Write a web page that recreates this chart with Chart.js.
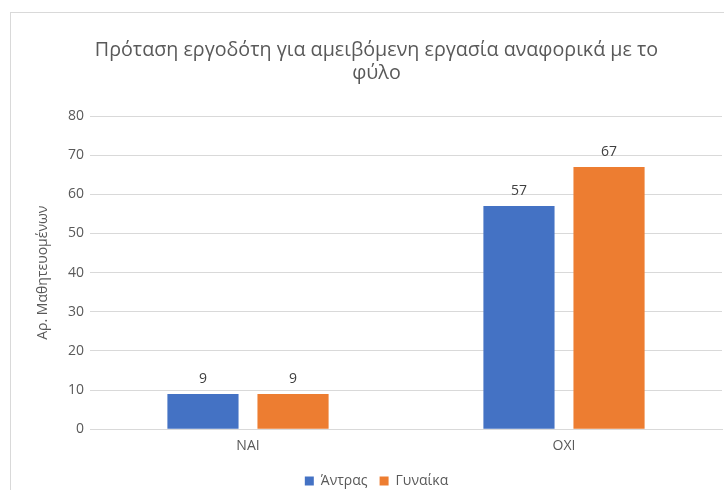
<!DOCTYPE html>
<html>
<head>
<meta charset="utf-8">
<script src="https://cdn.jsdelivr.net/npm/chart.js@4/dist/chart.umd.min.js"></script>
<style>
html,body{margin:0;padding:0;background:#fff;overflow:hidden;width:724px;height:490px;}
#wrap{position:absolute;left:10px;top:12px;width:740px;height:485px;border-left:1px solid #d9d9d9;border-top:1px solid #d9d9d9;background:#fff;}
canvas{display:block;}
</style>
</head>
<body>
<div id="wrap"><canvas id="c" width="740" height="485"></canvas></div>
<script>
const categories = ["ΝΑΙ", "ΟΧΙ"];
const seriesNames = ["Άντρας", "Γυναίκα"];
const men = [9, 57];
const women = [9, 67];
const yTicks = [0, 10, 20, 30, 40, 50, 60, 70, 80];
const titleLines = ["Πρόταση εργοδότη για αμειβόμενη εργασία αναφορικά με το", "φύλο"];
const yTitle = "Αρ. Μαθητευομένων";

const FONT = "'Open Sans', sans-serif";
const TXT = "#595959";

const valueLabels = {
  id: "valueLabels",
  afterDatasetsDraw(chart) {
    const ctx = chart.ctx;
    ctx.save();
    ctx.font = "14px " + FONT;
    ctx.fillStyle = "#404040";
    ctx.textAlign = "center";
    ctx.textBaseline = "bottom";
    chart.data.datasets.forEach((ds, i) => {
      chart.getDatasetMeta(i).data.forEach((bar, j) => {
        ctx.fillText(String(ds.data[j]), bar.x, bar.y - 8);
      });
    });
    ctx.restore();
  }
};

new Chart(document.getElementById("c"), {
  type: "bar",
  data: {
    labels: categories,
    datasets: [
      { label: seriesNames[0], data: men, backgroundColor: "#4472c4" },
      { label: seriesNames[1], data: women, backgroundColor: "#ed7d31" }
    ]
  },
  options: {
    responsive: false,
    animation: false,
    devicePixelRatio: 1,
    categoryPercentage: 0.57,
    barPercentage: 0.79,
    layout: { padding: { left: 20, right: 29, top: 10, bottom: 0 } },
    plugins: {
      title: {
        display: true,
        text: titleLines,
        color: TXT,
        font: { family: FONT, size: 19.7, weight: "normal", lineHeight: 1.17 },
        padding: { top: 16, bottom: 31 }
      },
      legend: {
        position: "bottom",
        labels: {
          color: TXT,
          font: { family: FONT, size: 14 },
          boxWidth: 9, boxHeight: 9,
          padding: 12
        }
      },
      tooltip: { enabled: false }
    },
    scales: {
      x: {
        grid: { display: false },
        border: { color: "#d9d9d9" },
        ticks: { color: TXT, font: { family: FONT, size: 14 }, padding: 0 },
        afterFit(scale) { scale.height = scale.height + 8; }
      },
      y: {
        min: 0, max: 80,
        afterBuildTicks(scale) { scale.ticks = yTicks.map(v => ({ value: v })); },
        grid: { color: "#d9d9d9", drawTicks: true, tickLength: 6, tickColor: "transparent" },
        border: { display: false },
        ticks: { color: TXT, font: { family: FONT, size: 14 }, padding: 0 },
        title: { display: true, text: yTitle, color: TXT, font: { family: FONT, size: 14 }, padding: { bottom: 14 } },
        afterFit(scale) { scale.width = 59; }
      }
    }
  },
  plugins: [valueLabels]
});
</script>
</body>
</html>
